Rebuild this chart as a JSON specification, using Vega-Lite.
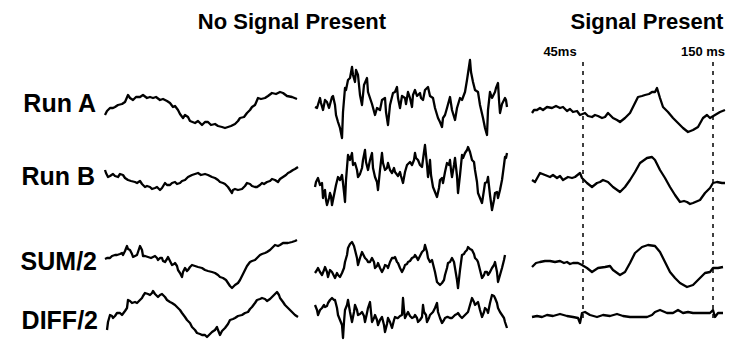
{
  "$schema": "https://vega.github.io/schema/vega-lite/v6.json",
  "width": 749,
  "height": 343,
  "padding": 0,
  "autosize": {"type": "fit", "contains": "padding"},
  "background": "white",
  "config": {"view": {"stroke": null}},
  "encoding": {
    "x": {"field": "x", "type": "quantitative", "scale": {"domain": [0, 749], "nice": false, "zero": false}, "axis": null},
    "y": {"field": "y", "type": "quantitative", "scale": {"domain": [0, 343], "nice": false, "zero": false, "reverse": true}, "axis": null}
  },
  "layer": [
    {
      "data": {"values": [{"x": 583, "y": 62, "y2": 322}, {"x": 713, "y": 62, "y2": 322}]},
      "mark": {"type": "rule", "color": "black", "strokeWidth": 1.5, "strokeDash": [4, 5]},
      "encoding": {"y2": {"field": "y2"}}
    },
    {
      "data": {"values": [
        {"s":"a1","x":105,"y":115},{"s":"a1","x":107,"y":111},{"s":"a1","x":110,"y":108},{"s":"a1","x":113,"y":108},{"s":"a1","x":115,"y":107},{"s":"a1","x":118,"y":105},{"s":"a1","x":122,"y":104},{"s":"a1","x":125,"y":102},{"s":"a1","x":128,"y":95},{"s":"a1","x":130,"y":98},{"s":"a1","x":133,"y":100},{"s":"a1","x":136,"y":97},{"s":"a1","x":140,"y":97},{"s":"a1","x":143,"y":95},{"s":"a1","x":147,"y":98},{"s":"a1","x":150,"y":97},{"s":"a1","x":153,"y":98},{"s":"a1","x":156,"y":97},{"s":"a1","x":160,"y":100},{"s":"a1","x":163,"y":99},{"s":"a1","x":167,"y":101},{"s":"a1","x":170,"y":103},{"s":"a1","x":173,"y":107},{"s":"a1","x":175,"y":106},{"s":"a1","x":178,"y":110},{"s":"a1","x":180,"y":114},{"s":"a1","x":183,"y":118},{"s":"a1","x":185,"y":115},{"s":"a1","x":188,"y":117},{"s":"a1","x":190,"y":121},{"s":"a1","x":195,"y":123},{"s":"a1","x":198,"y":121},{"s":"a1","x":202,"y":125},{"s":"a1","x":205,"y":122},{"s":"a1","x":208,"y":122},{"s":"a1","x":211,"y":125},{"s":"a1","x":215,"y":124},{"s":"a1","x":218,"y":126},{"s":"a1","x":222,"y":127},{"s":"a1","x":225,"y":128},{"s":"a1","x":228,"y":127},{"s":"a1","x":231,"y":126},{"s":"a1","x":235,"y":124},{"s":"a1","x":238,"y":121},{"s":"a1","x":240,"y":118},{"s":"a1","x":244,"y":117},{"s":"a1","x":247,"y":113},{"s":"a1","x":250,"y":110},{"s":"a1","x":252,"y":107},{"s":"a1","x":255,"y":105},{"s":"a1","x":258,"y":98},{"s":"a1","x":261,"y":99},{"s":"a1","x":265,"y":98},{"s":"a1","x":268,"y":96},{"s":"a1","x":272,"y":93},{"s":"a1","x":276,"y":94},{"s":"a1","x":280,"y":92},{"s":"a1","x":283,"y":93},{"s":"a1","x":287,"y":96},{"s":"a1","x":292,"y":97},{"s":"a1","x":297,"y":99},

        {"s":"a2","x":315,"y":107},{"s":"a2","x":320,"y":98},{"s":"a2","x":323,"y":110},{"s":"a2","x":327,"y":102},{"s":"a2","x":332,"y":97},{"s":"a2","x":335,"y":105},{"s":"a2","x":338,"y":122},{"s":"a2","x":342,"y":138},{"s":"a2","x":345,"y":88},{"s":"a2","x":348,"y":80},{"s":"a2","x":352,"y":67},{"s":"a2","x":355,"y":82},{"s":"a2","x":358,"y":75},{"s":"a2","x":362,"y":105},{"s":"a2","x":367,"y":78},{"s":"a2","x":370,"y":98},{"s":"a2","x":375,"y":115},{"s":"a2","x":380,"y":110},{"s":"a2","x":385,"y":98},{"s":"a2","x":388,"y":125},{"s":"a2","x":393,"y":93},{"s":"a2","x":397,"y":87},{"s":"a2","x":400,"y":108},{"s":"a2","x":405,"y":98},{"s":"a2","x":408,"y":92},{"s":"a2","x":412,"y":107},{"s":"a2","x":415,"y":90},{"s":"a2","x":420,"y":93},{"s":"a2","x":423,"y":100},{"s":"a2","x":428,"y":87},{"s":"a2","x":433,"y":98},{"s":"a2","x":438,"y":118},{"s":"a2","x":442,"y":127},{"s":"a2","x":445,"y":115},{"s":"a2","x":450,"y":97},{"s":"a2","x":455,"y":120},{"s":"a2","x":460,"y":98},{"s":"a2","x":465,"y":92},{"s":"a2","x":470,"y":60},{"s":"a2","x":473,"y":82},{"s":"a2","x":478,"y":92},{"s":"a2","x":483,"y":118},{"s":"a2","x":487,"y":135},{"s":"a2","x":490,"y":92},{"s":"a2","x":495,"y":92},{"s":"a2","x":498,"y":83},{"s":"a2","x":500,"y":113},{"s":"a2","x":505,"y":98},{"s":"a2","x":507,"y":107},
        {"s":"a2","x":317,"y":108},{"s":"a2","x":321,"y":103},{"s":"a2","x":325,"y":100},{"s":"a2","x":329,"y":108},{"s":"a2","x":333,"y":96},{"s":"a2","x":336,"y":115},{"s":"a2","x":340,"y":128},{"s":"a2","x":343,"y":112},{"s":"a2","x":346,"y":90},{"s":"a2","x":350,"y":78},{"s":"a2","x":353,"y":75},{"s":"a2","x":356,"y":70},{"s":"a2","x":360,"y":95},{"s":"a2","x":364,"y":85},{"s":"a2","x":368,"y":92},{"s":"a2","x":372,"y":104},{"s":"a2","x":377,"y":108},{"s":"a2","x":382,"y":100},{"s":"a2","x":386,"y":112},{"s":"a2","x":390,"y":105},{"s":"a2","x":395,"y":92},{"s":"a2","x":398,"y":98},{"s":"a2","x":402,"y":96},{"s":"a2","x":406,"y":104},{"s":"a2","x":410,"y":98},{"s":"a2","x":413,"y":95},{"s":"a2","x":417,"y":96},{"s":"a2","x":421,"y":98},{"s":"a2","x":425,"y":90},{"s":"a2","x":430,"y":96},{"s":"a2","x":435,"y":108},{"s":"a2","x":440,"y":122},{"s":"a2","x":443,"y":118},{"s":"a2","x":447,"y":108},{"s":"a2","x":452,"y":110},{"s":"a2","x":457,"y":108},{"s":"a2","x":462,"y":100},{"s":"a2","x":467,"y":80},{"s":"a2","x":471,"y":72},{"s":"a2","x":475,"y":90},{"s":"a2","x":480,"y":105},{"s":"a2","x":485,"y":128},{"s":"a2","x":488,"y":110},{"s":"a2","x":492,"y":98},{"s":"a2","x":496,"y":88},{"s":"a2","x":499,"y":100},{"s":"a2","x":502,"y":104},{"s":"a2","x":506,"y":100},

        {"s":"a3","x":532,"y":113},{"s":"a3","x":534,"y":110},{"s":"a3","x":537,"y":110},{"s":"a3","x":540,"y":108},{"s":"a3","x":543,"y":110},{"s":"a3","x":547,"y":107},{"s":"a3","x":552,"y":108},{"s":"a3","x":556,"y":106},{"s":"a3","x":560,"y":108},{"s":"a3","x":563,"y":107},{"s":"a3","x":567,"y":111},{"s":"a3","x":570,"y":109},{"s":"a3","x":573,"y":112},{"s":"a3","x":577,"y":111},{"s":"a3","x":580,"y":115},{"s":"a3","x":585,"y":113},{"s":"a3","x":588,"y":116},{"s":"a3","x":592,"y":117},{"s":"a3","x":595,"y":115},{"s":"a3","x":598,"y":116},{"s":"a3","x":602,"y":118},{"s":"a3","x":605,"y":117},{"s":"a3","x":608,"y":113},{"s":"a3","x":613,"y":118},{"s":"a3","x":617,"y":120},{"s":"a3","x":620,"y":122},{"s":"a3","x":625,"y":118},{"s":"a3","x":630,"y":113},{"s":"a3","x":635,"y":103},{"s":"a3","x":638,"y":97},{"s":"a3","x":642,"y":96},{"s":"a3","x":645,"y":95},{"s":"a3","x":649,"y":94},{"s":"a3","x":652,"y":92},{"s":"a3","x":655,"y":92},{"s":"a3","x":657,"y":88},{"s":"a3","x":660,"y":98},{"s":"a3","x":663,"y":107},{"s":"a3","x":668,"y":112},{"s":"a3","x":673,"y":118},{"s":"a3","x":678,"y":123},{"s":"a3","x":683,"y":128},{"s":"a3","x":688,"y":132},{"s":"a3","x":693,"y":130},{"s":"a3","x":698,"y":127},{"s":"a3","x":703,"y":118},{"s":"a3","x":707,"y":115},{"s":"a3","x":710,"y":118},{"s":"a3","x":715,"y":115},{"s":"a3","x":720,"y":112},{"s":"a3","x":725,"y":110},

        {"s":"b1","x":105,"y":170},{"s":"b1","x":108,"y":177},{"s":"b1","x":113,"y":174},{"s":"b1","x":118,"y":177},{"s":"b1","x":123,"y":175},{"s":"b1","x":128,"y":180},{"s":"b1","x":135,"y":182},{"s":"b1","x":140,"y":181},{"s":"b1","x":145,"y":187},{"s":"b1","x":150,"y":187},{"s":"b1","x":155,"y":188},{"s":"b1","x":160,"y":190},{"s":"b1","x":165,"y":183},{"s":"b1","x":170,"y":185},{"s":"b1","x":175,"y":182},{"s":"b1","x":180,"y":183},{"s":"b1","x":185,"y":180},{"s":"b1","x":192,"y":175},{"s":"b1","x":198,"y":173},{"s":"b1","x":205,"y":174},{"s":"b1","x":212,"y":177},{"s":"b1","x":218,"y":180},{"s":"b1","x":223,"y":183},{"s":"b1","x":228,"y":187},{"s":"b1","x":232,"y":193},{"s":"b1","x":235,"y":189},{"s":"b1","x":242,"y":189},{"s":"b1","x":247,"y":183},{"s":"b1","x":252,"y":186},{"s":"b1","x":257,"y":187},{"s":"b1","x":262,"y":183},{"s":"b1","x":267,"y":182},{"s":"b1","x":272,"y":179},{"s":"b1","x":278,"y":182},{"s":"b1","x":283,"y":177},{"s":"b1","x":288,"y":173},{"s":"b1","x":293,"y":170},{"s":"b1","x":298,"y":167},
        {"s":"b1","x":106,"y":173},{"s":"b1","x":110,"y":176},{"s":"b1","x":115,"y":176},{"s":"b1","x":120,"y":174},{"s":"b1","x":125,"y":178},{"s":"b1","x":131,"y":181},{"s":"b1","x":137,"y":183},{"s":"b1","x":142,"y":184},{"s":"b1","x":147,"y":186},{"s":"b1","x":152,"y":189},{"s":"b1","x":157,"y":187},{"s":"b1","x":162,"y":188},{"s":"b1","x":167,"y":185},{"s":"b1","x":172,"y":183},{"s":"b1","x":177,"y":184},{"s":"b1","x":182,"y":181},{"s":"b1","x":188,"y":177},{"s":"b1","x":195,"y":174},{"s":"b1","x":201,"y":175},{"s":"b1","x":208,"y":175},{"s":"b1","x":215,"y":178},{"s":"b1","x":220,"y":182},{"s":"b1","x":225,"y":184},{"s":"b1","x":230,"y":190},{"s":"b1","x":233,"y":190},{"s":"b1","x":238,"y":190},{"s":"b1","x":245,"y":186},{"s":"b1","x":250,"y":184},{"s":"b1","x":255,"y":187},{"s":"b1","x":260,"y":185},{"s":"b1","x":264,"y":184},{"s":"b1","x":270,"y":181},{"s":"b1","x":275,"y":180},{"s":"b1","x":280,"y":179},{"s":"b1","x":286,"y":175},{"s":"b1","x":290,"y":172},{"s":"b1","x":295,"y":169},

        {"s":"b2","x":315,"y":187},{"s":"b2","x":318,"y":178},{"s":"b2","x":322,"y":183},{"s":"b2","x":323,"y":198},{"s":"b2","x":325,"y":190},{"s":"b2","x":327,"y":205},{"s":"b2","x":330,"y":193},{"s":"b2","x":332,"y":205},{"s":"b2","x":335,"y":190},{"s":"b2","x":338,"y":177},{"s":"b2","x":342,"y":175},{"s":"b2","x":343,"y":183},{"s":"b2","x":345,"y":202},{"s":"b2","x":348,"y":155},{"s":"b2","x":352,"y":153},{"s":"b2","x":355,"y":163},{"s":"b2","x":358,"y":177},{"s":"b2","x":362,"y":168},{"s":"b2","x":365,"y":150},{"s":"b2","x":368,"y":170},{"s":"b2","x":372,"y":153},{"s":"b2","x":375,"y":177},{"s":"b2","x":378,"y":190},{"s":"b2","x":382,"y":153},{"s":"b2","x":385,"y":170},{"s":"b2","x":388,"y":163},{"s":"b2","x":392,"y":173},{"s":"b2","x":395,"y":172},{"s":"b2","x":400,"y":172},{"s":"b2","x":403,"y":183},{"s":"b2","x":407,"y":165},{"s":"b2","x":412,"y":165},{"s":"b2","x":415,"y":153},{"s":"b2","x":418,"y":160},{"s":"b2","x":422,"y":167},{"s":"b2","x":425,"y":145},{"s":"b2","x":428,"y":177},{"s":"b2","x":430,"y":160},{"s":"b2","x":433,"y":187},{"s":"b2","x":437,"y":197},{"s":"b2","x":440,"y":180},{"s":"b2","x":443,"y":183},{"s":"b2","x":447,"y":163},{"s":"b2","x":450,"y":160},{"s":"b2","x":452,"y":177},{"s":"b2","x":455,"y":158},{"s":"b2","x":458,"y":193},{"s":"b2","x":462,"y":155},{"s":"b2","x":465,"y":153},{"s":"b2","x":468,"y":147},{"s":"b2","x":472,"y":160},{"s":"b2","x":475,"y":170},{"s":"b2","x":478,"y":193},{"s":"b2","x":482,"y":203},{"s":"b2","x":485,"y":183},{"s":"b2","x":488,"y":177},{"s":"b2","x":492,"y":210},{"s":"b2","x":495,"y":193},{"s":"b2","x":498,"y":198},{"s":"b2","x":502,"y":180},{"s":"b2","x":505,"y":157},{"s":"b2","x":507,"y":153},
        {"s":"b2","x":316,"y":182},{"s":"b2","x":320,"y":185},{"s":"b2","x":324,"y":192},{"s":"b2","x":326,"y":200},{"s":"b2","x":329,"y":198},{"s":"b2","x":331,"y":196},{"s":"b2","x":333,"y":200},{"s":"b2","x":336,"y":185},{"s":"b2","x":340,"y":180},{"s":"b2","x":344,"y":192},{"s":"b2","x":346,"y":180},{"s":"b2","x":350,"y":160},{"s":"b2","x":353,"y":165},{"s":"b2","x":357,"y":170},{"s":"b2","x":360,"y":174},{"s":"b2","x":363,"y":160},{"s":"b2","x":366,"y":162},{"s":"b2","x":370,"y":160},{"s":"b2","x":373,"y":168},{"s":"b2","x":377,"y":182},{"s":"b2","x":380,"y":170},{"s":"b2","x":383,"y":163},{"s":"b2","x":387,"y":168},{"s":"b2","x":390,"y":170},{"s":"b2","x":394,"y":168},{"s":"b2","x":398,"y":176},{"s":"b2","x":401,"y":176},{"s":"b2","x":405,"y":172},{"s":"b2","x":410,"y":162},{"s":"b2","x":414,"y":160},{"s":"b2","x":416,"y":158},{"s":"b2","x":420,"y":165},{"s":"b2","x":424,"y":152},{"s":"b2","x":427,"y":165},{"s":"b2","x":429,"y":170},{"s":"b2","x":431,"y":175},{"s":"b2","x":435,"y":192},{"s":"b2","x":439,"y":188},{"s":"b2","x":442,"y":178},{"s":"b2","x":445,"y":172},{"s":"b2","x":449,"y":165},{"s":"b2","x":451,"y":170},{"s":"b2","x":454,"y":165},{"s":"b2","x":457,"y":176},{"s":"b2","x":460,"y":175},{"s":"b2","x":463,"y":158},{"s":"b2","x":467,"y":150},{"s":"b2","x":470,"y":152},{"s":"b2","x":474,"y":162},{"s":"b2","x":477,"y":182},{"s":"b2","x":480,"y":198},{"s":"b2","x":484,"y":190},{"s":"b2","x":487,"y":182},{"s":"b2","x":490,"y":195},{"s":"b2","x":494,"y":200},{"s":"b2","x":497,"y":192},{"s":"b2","x":500,"y":190},{"s":"b2","x":504,"y":165},{"s":"b2","x":506,"y":158},

        {"s":"b3","x":532,"y":180},{"s":"b3","x":535,"y":182},{"s":"b3","x":540,"y":173},{"s":"b3","x":545,"y":175},{"s":"b3","x":550,"y":177},{"s":"b3","x":553,"y":175},{"s":"b3","x":557,"y":178},{"s":"b3","x":560,"y":176},{"s":"b3","x":563,"y":180},{"s":"b3","x":568,"y":177},{"s":"b3","x":572,"y":178},{"s":"b3","x":575,"y":177},{"s":"b3","x":580,"y":173},{"s":"b3","x":582,"y":178},{"s":"b3","x":587,"y":183},{"s":"b3","x":592,"y":187},{"s":"b3","x":597,"y":183},{"s":"b3","x":600,"y":182},{"s":"b3","x":603,"y":180},{"s":"b3","x":608,"y":182},{"s":"b3","x":613,"y":187},{"s":"b3","x":620,"y":192},{"s":"b3","x":625,"y":187},{"s":"b3","x":630,"y":180},{"s":"b3","x":635,"y":172},{"s":"b3","x":640,"y":163},{"s":"b3","x":647,"y":158},{"s":"b3","x":652,"y":157},{"s":"b3","x":655,"y":160},{"s":"b3","x":660,"y":170},{"s":"b3","x":665,"y":178},{"s":"b3","x":670,"y":187},{"s":"b3","x":675,"y":195},{"s":"b3","x":680,"y":202},{"s":"b3","x":684,"y":201},{"s":"b3","x":687,"y":202},{"s":"b3","x":690,"y":204},{"s":"b3","x":693,"y":203},{"s":"b3","x":700,"y":200},{"s":"b3","x":705,"y":193},{"s":"b3","x":710,"y":188},{"s":"b3","x":713,"y":183},{"s":"b3","x":717,"y":182},{"s":"b3","x":722,"y":183},{"s":"b3","x":725,"y":183},

        {"s":"s1","x":105,"y":259},{"s":"s1","x":110,"y":258},{"s":"s1","x":115,"y":255},{"s":"s1","x":120,"y":254},{"s":"s1","x":123,"y":255},{"s":"s1","x":127,"y":246},{"s":"s1","x":130,"y":250},{"s":"s1","x":133,"y":257},{"s":"s1","x":137,"y":255},{"s":"s1","x":140,"y":246},{"s":"s1","x":143,"y":256},{"s":"s1","x":148,"y":257},{"s":"s1","x":155,"y":256},{"s":"s1","x":158,"y":260},{"s":"s1","x":162,"y":258},{"s":"s1","x":165,"y":262},{"s":"s1","x":168,"y":257},{"s":"s1","x":172,"y":265},{"s":"s1","x":175,"y":263},{"s":"s1","x":178,"y":270},{"s":"s1","x":182,"y":277},{"s":"s1","x":185,"y":268},{"s":"s1","x":188,"y":270},{"s":"s1","x":192,"y":265},{"s":"s1","x":198,"y":267},{"s":"s1","x":205,"y":270},{"s":"s1","x":212,"y":272},{"s":"s1","x":218,"y":275},{"s":"s1","x":223,"y":278},{"s":"s1","x":228,"y":283},{"s":"s1","x":232,"y":288},{"s":"s1","x":235,"y":285},{"s":"s1","x":240,"y":280},{"s":"s1","x":245,"y":270},{"s":"s1","x":250,"y":262},{"s":"s1","x":255,"y":260},{"s":"s1","x":260,"y":255},{"s":"s1","x":265,"y":253},{"s":"s1","x":270,"y":250},{"s":"s1","x":275,"y":245},{"s":"s1","x":280,"y":245},{"s":"s1","x":285,"y":243},{"s":"s1","x":292,"y":242},{"s":"s1","x":297,"y":240},
        {"s":"s1","x":107,"y":258},{"s":"s1","x":112,"y":256},{"s":"s1","x":117,"y":255},{"s":"s1","x":122,"y":253},{"s":"s1","x":125,"y":251},{"s":"s1","x":128,"y":249},{"s":"s1","x":132,"y":254},{"s":"s1","x":135,"y":256},{"s":"s1","x":138,"y":252},{"s":"s1","x":142,"y":250},{"s":"s1","x":145,"y":256},{"s":"s1","x":151,"y":258},{"s":"s1","x":157,"y":258},{"s":"s1","x":160,"y":258},{"s":"s1","x":163,"y":261},{"s":"s1","x":167,"y":259},{"s":"s1","x":170,"y":261},{"s":"s1","x":174,"y":264},{"s":"s1","x":177,"y":266},{"s":"s1","x":180,"y":273},{"s":"s1","x":183,"y":272},{"s":"s1","x":187,"y":271},{"s":"s1","x":190,"y":267},{"s":"s1","x":195,"y":266},{"s":"s1","x":202,"y":268},{"s":"s1","x":208,"y":271},{"s":"s1","x":215,"y":273},{"s":"s1","x":220,"y":277},{"s":"s1","x":226,"y":280},{"s":"s1","x":230,"y":286},{"s":"s1","x":233,"y":287},{"s":"s1","x":238,"y":283},{"s":"s1","x":242,"y":276},{"s":"s1","x":247,"y":266},{"s":"s1","x":252,"y":261},{"s":"s1","x":258,"y":257},{"s":"s1","x":262,"y":254},{"s":"s1","x":267,"y":252},{"s":"s1","x":272,"y":248},{"s":"s1","x":278,"y":246},{"s":"s1","x":283,"y":243},{"s":"s1","x":288,"y":243},{"s":"s1","x":295,"y":241},

        {"s":"s2","x":315,"y":273},{"s":"s2","x":318,"y":268},{"s":"s2","x":322,"y":275},{"s":"s2","x":325,"y":267},{"s":"s2","x":328,"y":277},{"s":"s2","x":332,"y":272},{"s":"s2","x":335,"y":278},{"s":"s2","x":338,"y":275},{"s":"s2","x":342,"y":273},{"s":"s2","x":345,"y":262},{"s":"s2","x":348,"y":248},{"s":"s2","x":352,"y":242},{"s":"s2","x":355,"y":250},{"s":"s2","x":358,"y":265},{"s":"s2","x":362,"y":252},{"s":"s2","x":365,"y":258},{"s":"s2","x":368,"y":262},{"s":"s2","x":372,"y":258},{"s":"s2","x":375,"y":268},{"s":"s2","x":378,"y":263},{"s":"s2","x":382,"y":272},{"s":"s2","x":385,"y":265},{"s":"s2","x":388,"y":268},{"s":"s2","x":392,"y":258},{"s":"s2","x":395,"y":257},{"s":"s2","x":398,"y":263},{"s":"s2","x":402,"y":272},{"s":"s2","x":405,"y":265},{"s":"s2","x":408,"y":262},{"s":"s2","x":412,"y":258},{"s":"s2","x":415,"y":255},{"s":"s2","x":418,"y":260},{"s":"s2","x":422,"y":252},{"s":"s2","x":425,"y":245},{"s":"s2","x":428,"y":258},{"s":"s2","x":432,"y":260},{"s":"s2","x":437,"y":282},{"s":"s2","x":442,"y":283},{"s":"s2","x":445,"y":275},{"s":"s2","x":448,"y":263},{"s":"s2","x":452,"y":258},{"s":"s2","x":455,"y":268},{"s":"s2","x":458,"y":288},{"s":"s2","x":462,"y":255},{"s":"s2","x":465,"y":252},{"s":"s2","x":468,"y":247},{"s":"s2","x":472,"y":250},{"s":"s2","x":475,"y":258},{"s":"s2","x":478,"y":262},{"s":"s2","x":482,"y":278},{"s":"s2","x":485,"y":272},{"s":"s2","x":488,"y":275},{"s":"s2","x":492,"y":268},{"s":"s2","x":495,"y":262},{"s":"s2","x":498,"y":282},{"s":"s2","x":502,"y":268},{"s":"s2","x":505,"y":255},
        {"s":"s2","x":317,"y":270},{"s":"s2","x":320,"y":272},{"s":"s2","x":324,"y":270},{"s":"s2","x":327,"y":272},{"s":"s2","x":330,"y":270},{"s":"s2","x":334,"y":276},{"s":"s2","x":337,"y":273},{"s":"s2","x":340,"y":277},{"s":"s2","x":344,"y":268},{"s":"s2","x":347,"y":255},{"s":"s2","x":350,"y":244},{"s":"s2","x":354,"y":246},{"s":"s2","x":357,"y":258},{"s":"s2","x":360,"y":258},{"s":"s2","x":364,"y":256},{"s":"s2","x":367,"y":260},{"s":"s2","x":370,"y":262},{"s":"s2","x":374,"y":262},{"s":"s2","x":377,"y":266},{"s":"s2","x":380,"y":268},{"s":"s2","x":384,"y":268},{"s":"s2","x":387,"y":266},{"s":"s2","x":390,"y":262},{"s":"s2","x":394,"y":258},{"s":"s2","x":397,"y":262},{"s":"s2","x":400,"y":268},{"s":"s2","x":404,"y":268},{"s":"s2","x":407,"y":264},{"s":"s2","x":410,"y":261},{"s":"s2","x":414,"y":257},{"s":"s2","x":417,"y":258},{"s":"s2","x":420,"y":256},{"s":"s2","x":424,"y":250},{"s":"s2","x":427,"y":252},{"s":"s2","x":430,"y":262},{"s":"s2","x":435,"y":272},{"s":"s2","x":440,"y":285},{"s":"s2","x":444,"y":280},{"s":"s2","x":447,"y":268},{"s":"s2","x":450,"y":262},{"s":"s2","x":454,"y":262},{"s":"s2","x":457,"y":280},{"s":"s2","x":460,"y":270},{"s":"s2","x":464,"y":254},{"s":"s2","x":467,"y":250},{"s":"s2","x":470,"y":249},{"s":"s2","x":474,"y":254},{"s":"s2","x":477,"y":260},{"s":"s2","x":480,"y":270},{"s":"s2","x":484,"y":275},{"s":"s2","x":487,"y":272},{"s":"s2","x":490,"y":272},{"s":"s2","x":494,"y":265},{"s":"s2","x":497,"y":272},{"s":"s2","x":500,"y":275},{"s":"s2","x":504,"y":260},

        {"s":"s3","x":532,"y":267},{"s":"s3","x":536,"y":263},{"s":"s3","x":540,"y":262},{"s":"s3","x":545,"y":261},{"s":"s3","x":550,"y":261},{"s":"s3","x":555,"y":262},{"s":"s3","x":560,"y":261},{"s":"s3","x":564,"y":263},{"s":"s3","x":567,"y":262},{"s":"s3","x":570,"y":264},{"s":"s3","x":573,"y":263},{"s":"s3","x":578,"y":263},{"s":"s3","x":582,"y":265},{"s":"s3","x":587,"y":268},{"s":"s3","x":592,"y":272},{"s":"s3","x":598,"y":268},{"s":"s3","x":605,"y":267},{"s":"s3","x":610,"y":266},{"s":"s3","x":613,"y":270},{"s":"s3","x":620,"y":275},{"s":"s3","x":625,"y":272},{"s":"s3","x":630,"y":263},{"s":"s3","x":635,"y":253},{"s":"s3","x":642,"y":247},{"s":"s3","x":648,"y":245},{"s":"s3","x":655,"y":246},{"s":"s3","x":660,"y":252},{"s":"s3","x":665,"y":262},{"s":"s3","x":670,"y":272},{"s":"s3","x":675,"y":278},{"s":"s3","x":680,"y":283},{"s":"s3","x":687,"y":287},{"s":"s3","x":693,"y":285},{"s":"s3","x":700,"y":278},{"s":"s3","x":705,"y":273},{"s":"s3","x":710,"y":272},{"s":"s3","x":713,"y":268},{"s":"s3","x":718,"y":268},{"s":"s3","x":723,"y":267},

        {"s":"d1","x":107,"y":330},{"s":"d1","x":110,"y":315},{"s":"d1","x":113,"y":318},{"s":"d1","x":117,"y":313},{"s":"d1","x":122,"y":315},{"s":"d1","x":127,"y":308},{"s":"d1","x":128,"y":300},{"s":"d1","x":132,"y":303},{"s":"d1","x":137,"y":303},{"s":"d1","x":142,"y":298},{"s":"d1","x":145,"y":293},{"s":"d1","x":150,"y":295},{"s":"d1","x":153,"y":291},{"s":"d1","x":158,"y":297},{"s":"d1","x":162,"y":294},{"s":"d1","x":167,"y":300},{"s":"d1","x":172,"y":303},{"s":"d1","x":177,"y":307},{"s":"d1","x":182,"y":313},{"s":"d1","x":187,"y":320},{"s":"d1","x":192,"y":327},{"s":"d1","x":197,"y":333},{"s":"d1","x":202,"y":335},{"s":"d1","x":207,"y":337},{"s":"d1","x":212,"y":332},{"s":"d1","x":217,"y":327},{"s":"d1","x":220,"y":335},{"s":"d1","x":225,"y":328},{"s":"d1","x":230,"y":320},{"s":"d1","x":235,"y":318},{"s":"d1","x":242,"y":315},{"s":"d1","x":248,"y":312},{"s":"d1","x":252,"y":307},{"s":"d1","x":257,"y":300},{"s":"d1","x":262,"y":298},{"s":"d1","x":267,"y":301},{"s":"d1","x":272,"y":297},{"s":"d1","x":277,"y":292},{"s":"d1","x":280,"y":298},{"s":"d1","x":285,"y":305},{"s":"d1","x":292,"y":312},{"s":"d1","x":298,"y":317},
        {"s":"d1","x":108,"y":322},{"s":"d1","x":112,"y":316},{"s":"d1","x":115,"y":316},{"s":"d1","x":120,"y":313},{"s":"d1","x":125,"y":311},{"s":"d1","x":130,"y":301},{"s":"d1","x":135,"y":302},{"s":"d1","x":140,"y":300},{"s":"d1","x":143,"y":296},{"s":"d1","x":148,"y":294},{"s":"d1","x":152,"y":293},{"s":"d1","x":155,"y":294},{"s":"d1","x":160,"y":295},{"s":"d1","x":165,"y":297},{"s":"d1","x":170,"y":302},{"s":"d1","x":175,"y":305},{"s":"d1","x":180,"y":310},{"s":"d1","x":185,"y":317},{"s":"d1","x":190,"y":323},{"s":"d1","x":195,"y":330},{"s":"d1","x":200,"y":334},{"s":"d1","x":205,"y":335},{"s":"d1","x":210,"y":334},{"s":"d1","x":215,"y":330},{"s":"d1","x":218,"y":330},{"s":"d1","x":222,"y":331},{"s":"d1","x":228,"y":324},{"s":"d1","x":233,"y":319},{"s":"d1","x":238,"y":316},{"s":"d1","x":245,"y":313},{"s":"d1","x":250,"y":309},{"s":"d1","x":255,"y":303},{"s":"d1","x":260,"y":299},{"s":"d1","x":265,"y":299},{"s":"d1","x":270,"y":299},{"s":"d1","x":275,"y":294},{"s":"d1","x":279,"y":295},{"s":"d1","x":283,"y":302},{"s":"d1","x":288,"y":308},{"s":"d1","x":295,"y":315},

        {"s":"d2","x":315,"y":305},{"s":"d2","x":318,"y":315},{"s":"d2","x":322,"y":308},{"s":"d2","x":325,"y":307},{"s":"d2","x":328,"y":303},{"s":"d2","x":332,"y":298},{"s":"d2","x":335,"y":300},{"s":"d2","x":338,"y":315},{"s":"d2","x":342,"y":325},{"s":"d2","x":343,"y":338},{"s":"d2","x":345,"y":310},{"s":"d2","x":348,"y":300},{"s":"d2","x":352,"y":322},{"s":"d2","x":355,"y":305},{"s":"d2","x":358,"y":315},{"s":"d2","x":362,"y":312},{"s":"d2","x":365,"y":322},{"s":"d2","x":368,"y":308},{"s":"d2","x":370,"y":302},{"s":"d2","x":372,"y":322},{"s":"d2","x":375,"y":315},{"s":"d2","x":378,"y":325},{"s":"d2","x":382,"y":317},{"s":"d2","x":385,"y":332},{"s":"d2","x":388,"y":318},{"s":"d2","x":392,"y":328},{"s":"d2","x":395,"y":317},{"s":"d2","x":398,"y":318},{"s":"d2","x":402,"y":315},{"s":"d2","x":403,"y":298},{"s":"d2","x":405,"y":318},{"s":"d2","x":408,"y":312},{"s":"d2","x":412,"y":318},{"s":"d2","x":415,"y":315},{"s":"d2","x":418,"y":322},{"s":"d2","x":422,"y":317},{"s":"d2","x":423,"y":305},{"s":"d2","x":427,"y":322},{"s":"d2","x":430,"y":315},{"s":"d2","x":433,"y":312},{"s":"d2","x":437,"y":303},{"s":"d2","x":438,"y":312},{"s":"d2","x":442,"y":323},{"s":"d2","x":445,"y":318},{"s":"d2","x":448,"y":317},{"s":"d2","x":452,"y":318},{"s":"d2","x":455,"y":315},{"s":"d2","x":458,"y":313},{"s":"d2","x":462,"y":318},{"s":"d2","x":465,"y":315},{"s":"d2","x":468,"y":312},{"s":"d2","x":472,"y":298},{"s":"d2","x":475,"y":305},{"s":"d2","x":478,"y":302},{"s":"d2","x":482,"y":317},{"s":"d2","x":485,"y":308},{"s":"d2","x":488,"y":313},{"s":"d2","x":492,"y":295},{"s":"d2","x":495,"y":298},{"s":"d2","x":498,"y":308},{"s":"d2","x":502,"y":315},{"s":"d2","x":505,"y":322},{"s":"d2","x":507,"y":328},
        {"s":"d2","x":317,"y":310},{"s":"d2","x":320,"y":310},{"s":"d2","x":324,"y":305},{"s":"d2","x":327,"y":306},{"s":"d2","x":330,"y":300},{"s":"d2","x":334,"y":300},{"s":"d2","x":337,"y":308},{"s":"d2","x":340,"y":320},{"s":"d2","x":344,"y":322},{"s":"d2","x":347,"y":305},{"s":"d2","x":350,"y":312},{"s":"d2","x":354,"y":312},{"s":"d2","x":357,"y":310},{"s":"d2","x":360,"y":314},{"s":"d2","x":364,"y":316},{"s":"d2","x":367,"y":313},{"s":"d2","x":369,"y":305},{"s":"d2","x":371,"y":312},{"s":"d2","x":374,"y":318},{"s":"d2","x":377,"y":320},{"s":"d2","x":380,"y":320},{"s":"d2","x":384,"y":325},{"s":"d2","x":387,"y":324},{"s":"d2","x":390,"y":322},{"s":"d2","x":394,"y":320},{"s":"d2","x":397,"y":318},{"s":"d2","x":400,"y":316},{"s":"d2","x":404,"y":310},{"s":"d2","x":407,"y":314},{"s":"d2","x":410,"y":316},{"s":"d2","x":414,"y":317},{"s":"d2","x":417,"y":318},{"s":"d2","x":420,"y":320},{"s":"d2","x":424,"y":312},{"s":"d2","x":426,"y":315},{"s":"d2","x":429,"y":318},{"s":"d2","x":432,"y":313},{"s":"d2","x":435,"y":308},{"s":"d2","x":440,"y":318},{"s":"d2","x":444,"y":320},{"s":"d2","x":447,"y":317},{"s":"d2","x":450,"y":318},{"s":"d2","x":454,"y":316},{"s":"d2","x":457,"y":314},{"s":"d2","x":460,"y":316},{"s":"d2","x":464,"y":316},{"s":"d2","x":467,"y":313},{"s":"d2","x":470,"y":305},{"s":"d2","x":474,"y":302},{"s":"d2","x":477,"y":303},{"s":"d2","x":480,"y":310},{"s":"d2","x":484,"y":312},{"s":"d2","x":487,"y":310},{"s":"d2","x":490,"y":303},{"s":"d2","x":494,"y":296},{"s":"d2","x":497,"y":303},{"s":"d2","x":500,"y":312},{"s":"d2","x":504,"y":318},{"s":"d2","x":506,"y":325},

        {"s":"d3","x":532,"y":317},{"s":"d3","x":537,"y":316},{"s":"d3","x":542,"y":317},{"s":"d3","x":547,"y":315},{"s":"d3","x":553,"y":316},{"s":"d3","x":560,"y":314},{"s":"d3","x":567,"y":316},{"s":"d3","x":573,"y":317},{"s":"d3","x":578,"y":318},{"s":"d3","x":580,"y":323},{"s":"d3","x":582,"y":313},{"s":"d3","x":585,"y":312},{"s":"d3","x":590,"y":315},{"s":"d3","x":597,"y":317},{"s":"d3","x":603,"y":315},{"s":"d3","x":610,"y":316},{"s":"d3","x":617,"y":314},{"s":"d3","x":623,"y":316},{"s":"d3","x":630,"y":317},{"s":"d3","x":638,"y":317},{"s":"d3","x":647,"y":317},{"s":"d3","x":652,"y":315},{"s":"d3","x":655,"y":312},{"s":"d3","x":660,"y":310},{"s":"d3","x":667,"y":313},{"s":"d3","x":673,"y":313},{"s":"d3","x":678,"y":310},{"s":"d3","x":683,"y":313},{"s":"d3","x":688,"y":312},{"s":"d3","x":693,"y":313},{"s":"d3","x":700,"y":313},{"s":"d3","x":705,"y":313},{"s":"d3","x":710,"y":313},{"s":"d3","x":713,"y":310},{"s":"d3","x":715,"y":317},{"s":"d3","x":718,"y":313},{"s":"d3","x":723,"y":313}
      ]},
      "mark": {"type": "line", "color": "black", "strokeWidth": 2.3, "strokeJoin": "round"},
      "encoding": {"detail": {"field": "s"}}
    },
    {
      "data": {"values": [{"text": "No Signal Present", "x": 292, "y": 22}, {"text": "Signal Present", "x": 647, "y": 22}]},
      "mark": {"type": "text", "font": "Liberation Sans", "fontWeight": "bold", "fontSize": 22, "align": "center", "baseline": "middle", "color": "black"},
      "encoding": {"text": {"field": "text"}}
    },
    {
      "data": {"values": [{"text": "Run A", "x": 96, "y": 104}, {"text": "Run B", "x": 95, "y": 177}, {"text": "SUM/2", "x": 97, "y": 262}, {"text": "DIFF/2", "x": 98, "y": 321}]},
      "mark": {"type": "text", "font": "Liberation Sans", "fontWeight": "bold", "fontSize": 25, "align": "right", "baseline": "middle", "color": "black"},
      "encoding": {"text": {"field": "text"}}
    },
    {
      "data": {"values": [{"text": "45ms", "x": 560, "y": 52}, {"text": "150 ms", "x": 703, "y": 52}]},
      "mark": {"type": "text", "font": "Liberation Sans", "fontWeight": "bold", "fontSize": 13, "align": "center", "baseline": "middle", "color": "black"},
      "encoding": {"text": {"field": "text"}}
    }
  ]
}
